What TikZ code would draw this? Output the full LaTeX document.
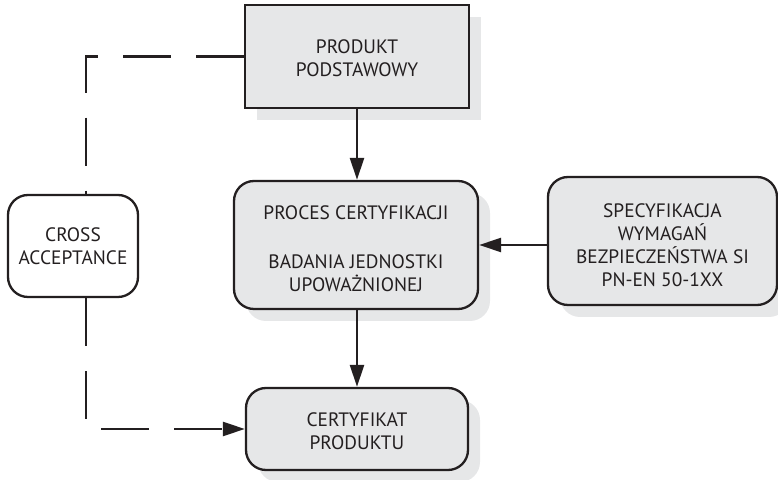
\documentclass[tikz,border=0pt]{standalone}
\usepackage{fontspec}
\setmainfont{PT Sans}
\usetikzlibrary{shadows,arrows.meta}
\definecolor{boxgray}{HTML}{E6E7E8}
\definecolor{ink}{HTML}{231F20}
\newcommand\mystrut[1]{\rule{0pt}{#1}}
\begin{document}
\begin{tikzpicture}[x=0.5pt,y=-0.5pt,
  base/.style={draw=ink,line width=1.15pt,align=center,inner sep=0pt,font=\fontsize{9.7}{11.5}\selectfont,text=ink},
  gbox/.style={base,fill=boxgray,drop shadow={shadow xshift=6pt,shadow yshift=-6pt,fill=boxgray,opacity=1}},
  rbox/.style={gbox,rounded corners=10pt},
  tipstyle/.style={-{Triangle[length=11pt,width=7pt]}},
  arr/.style={draw=ink,line width=1.15pt,tipstyle},
  dashln/.style={draw=ink,line width=1.25pt,dash pattern=on 24pt off 12.5pt}]
\useasboundingbox (0,0) rectangle (778,480);
\node[gbox,minimum width=112pt,minimum height=51.5pt] (top) at (357,56.5) {\mystrut{9pt}PRODUKT\\PODSTAWOWY};
\node[rbox,minimum width=122pt,minimum height=64pt] (mid) at (356,245) {\mystrut{11pt}PROCES CERTYFIKACJI\\[13pt]BADANIA JEDNOSTKI\\UPOWAŻNIONEJ};
\node[rbox,minimum width=114.5pt,minimum height=64pt] (spec) at (662.5,241) {\mystrut{11pt}SPECYFIKACJA\\WYMAGAŃ\\BEZPIECZEŃSTWA SI\\PN-EN 50-1XX};
\node[base,fill=white,rounded corners=10pt,minimum width=65pt,minimum height=51pt] (cross) at (73,246) {CROSS\\ACCEPTANCE};
\node[rbox,minimum width=111pt,minimum height=41pt] (cert) at (357,429) {\mystrut{9pt}CERTYFIKAT\\PRODUKTU};
\coordinate (vx) at (86,0);
\draw[arr] (top.south) -- (top.south |- mid.north);
\draw[arr] (top.south |- mid.south) -- (cert.north);
\draw[arr] (spec.west |- mid.east) -- (mid.east);
\draw[dashln] (top.west) -| (vx |- cross.north);
\draw[dashln,tipstyle] (vx |- cross.south) |- (cert.west);
\end{tikzpicture}
\end{document}
